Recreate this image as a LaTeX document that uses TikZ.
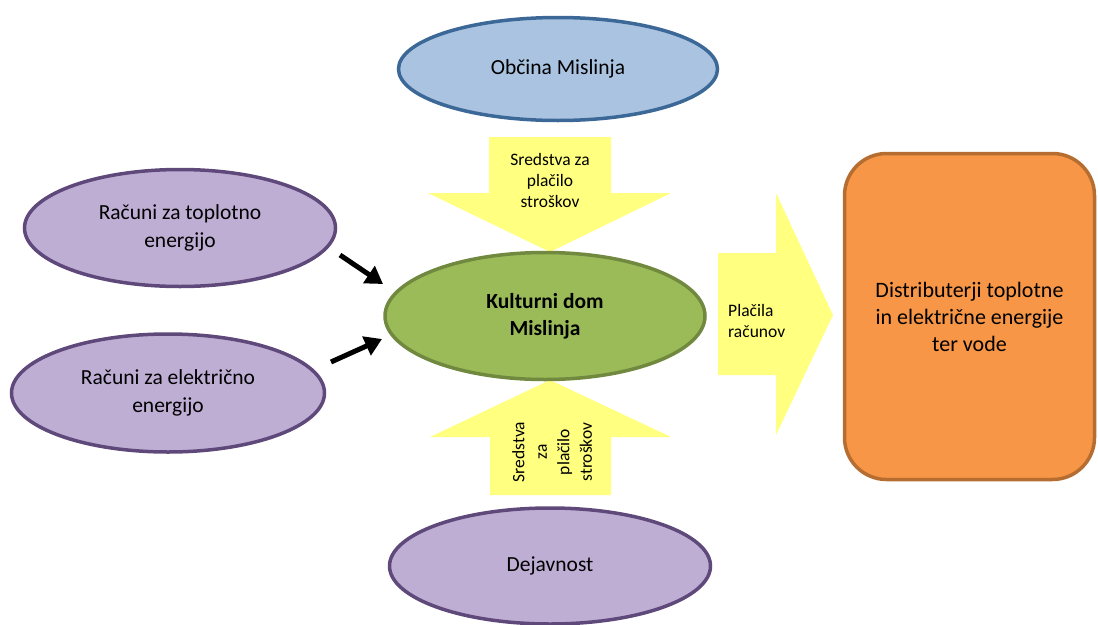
\documentclass[tikz,border=0pt]{standalone}
\usepackage{fontspec}
\setmainfont{Carlito}
\usetikzlibrary{arrows.meta,shapes.geometric}
\definecolor{blfill}{HTML}{A9C3E0}
\definecolor{bldraw}{HTML}{3C6897}
\definecolor{grfill}{HTML}{9BBB59}
\definecolor{grdraw}{HTML}{71893F}
\definecolor{pufill}{HTML}{BFAED4}
\definecolor{pudraw}{HTML}{5F497A}
\definecolor{orfill}{HTML}{F79646}
\definecolor{ordraw}{HTML}{B66D31}
\definecolor{yel}{HTML}{FFFF80}
\tikzset{
  ell/.style={ellipse, line width=3.5pt, inner sep=0pt, align=center, font=\fontsize{21.5}{27}\selectfont},
  blockarrow/.style={fill=yel, draw=none},
  smalltext/.style={align=center, font=\fontsize{17.5}{21}\selectfont, inner sep=0pt},
  blackarrow/.style={line width=5pt, -{Triangle[length=17pt,width=20pt]}}
}
\begin{document}
\begin{tikzpicture}[x=1pt,y=-1pt]
\useasboundingbox (0,0) rectangle (1098,624);
% block arrows
\fill[blockarrow] (489,137) -- (611,137) -- (611,193) -- (671,193) -- (550,252) -- (428,193) -- (489,193) -- cycle;
\fill[blockarrow] (490,495) -- (611,495) -- (611,437) -- (671,437) -- (550,380) -- (430,437) -- (490,437) -- cycle;
\fill[blockarrow] (718,253) -- (776,253) -- (776,193) -- (833,315) -- (776,435) -- (776,375) -- (718,375) -- cycle;
\node[smalltext] (ttop) at (550,180) {Sredstva za\\plačilo\\stroškov};
\node[smalltext, rotate=90, font=\fontsize{17.5}{22.5}\selectfont] (tbot) at (552,452) {Sredstva\\za\\plačilo\\stroškov};
\node[smalltext, align=left, anchor=west] (tright) at (728,321) {Plačila\\računov};
% ellipses
\node[ell, draw=bldraw, fill=blfill, minimum width=319pt, minimum height=103pt] (obcina) at (558,69) {Občina Mislinja};
\node[ell, draw=grdraw, fill=grfill, minimum width=320pt, minimum height=127pt, font=\fontsize{21.5}{27}\selectfont\bfseries] (kd) at (545,316) {Kulturni dom\\Mislinja};
\node[ell, draw=pudraw, fill=pufill, minimum width=311pt, minimum height=117pt, font=\fontsize{21.5}{28}\selectfont] (top) at (180,228) {Računi za toplotno\\energijo};
\node[ell, draw=pudraw, fill=pufill, minimum width=313pt, minimum height=118pt, font=\fontsize{21.5}{28}\selectfont] (ele) at (168,393) {Računi za električno\\energijo};
\node[ell, draw=pudraw, fill=pufill, minimum width=321pt, minimum height=116pt] (dej) at (550,566) {Dejavnost};
% rounded rectangle
\node[draw=ordraw, fill=orfill, line width=3.5pt, rounded corners=42pt, minimum width=250pt, minimum height=326pt, inner sep=0pt, align=center, font=\fontsize{22}{27}\selectfont] (dist) at (969.5,316.5) {Distributerji toplotne\\in električne energije\\ter vode};
% black arrows
\coordinate (a1s) at (340,255);
\coordinate (a1e) at (383,284);
\coordinate (a2s) at (331,362);
\coordinate (a2e) at (382,339);
\draw[blackarrow] (a1s) -- (a1e);
\draw[blackarrow] (a2s) -- (a2e);
\end{tikzpicture}
\end{document}
